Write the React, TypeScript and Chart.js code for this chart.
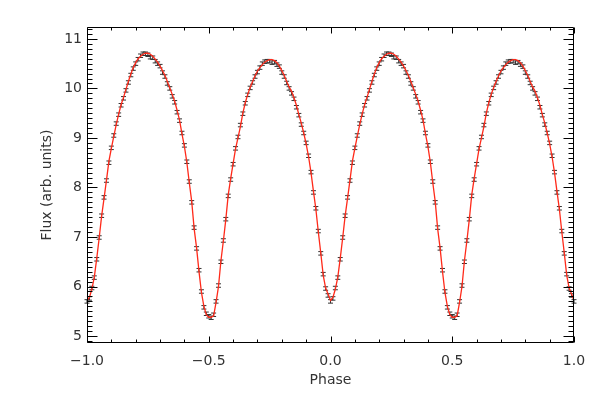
import React, { useEffect, useRef } from "react";
import { Chart, registerables } from "chart.js";

Chart.register(...registerables);

// Phase bins of one orbital cycle (the light curve is shown twice, -1..0 and 0..1)
const phaseBins = [
  0.00, 0.01, 0.02, 0.03, 0.04, 0.05, 0.06, 0.07, 0.08, 0.09,
  0.10, 0.11, 0.12, 0.13, 0.14, 0.15, 0.16, 0.17, 0.18, 0.19,
  0.20, 0.21, 0.22, 0.23, 0.24, 0.25, 0.26, 0.27, 0.28, 0.29,
  0.30, 0.31, 0.32, 0.33, 0.34, 0.35, 0.36, 0.37, 0.38, 0.39,
  0.40, 0.41, 0.42, 0.43, 0.44, 0.45, 0.46, 0.47, 0.48, 0.49,
  0.50, 0.51, 0.52, 0.53, 0.54, 0.55, 0.56, 0.57, 0.58, 0.59,
  0.60, 0.61, 0.62, 0.63, 0.64, 0.65, 0.66, 0.67, 0.68, 0.69,
  0.70, 0.71, 0.72, 0.73, 0.74, 0.75, 0.76, 0.77, 0.78, 0.79,
  0.80, 0.81, 0.82, 0.83, 0.84, 0.85, 0.86, 0.87, 0.88, 0.89,
  0.90, 0.91, 0.92, 0.93, 0.94, 0.95, 0.96, 0.97, 0.98, 0.99,
];

// Observed (binned) flux per phase bin
const observedFlux = [
  5.70, 5.76, 5.97, 6.18, 6.55, 6.99, 7.43, 7.80, 8.14, 8.50,
  8.80, 9.05, 9.29, 9.47, 9.66, 9.80, 9.96, 10.12, 10.27, 10.40,
  10.50, 10.59, 10.66, 10.70, 10.70, 10.68, 10.63, 10.62, 10.55, 10.50,
  10.45, 10.32, 10.24, 10.10, 10.00, 9.84, 9.72, 9.52, 9.35, 9.10,
  8.85, 8.52, 8.12, 7.70, 7.19, 6.77, 6.33, 5.90, 5.58, 5.45,
  5.40, 5.37, 5.43, 5.70, 6.02, 6.50, 6.93, 7.36, 7.83, 8.16,
  8.47, 8.79, 9.02, 9.26, 9.49, 9.70, 9.87, 10.01, 10.12, 10.24,
  10.33, 10.42, 10.50, 10.54, 10.55, 10.55, 10.52, 10.53, 10.48, 10.44,
  10.32, 10.24, 10.11, 10.00, 9.90, 9.79, 9.62, 9.46, 9.27, 9.10,
  8.90, 8.64, 8.31, 7.90, 7.58, 7.12, 6.67, 6.25, 5.96, 5.82,
];

// Model fit (red curve) per phase bin
const modelFlux = [
  5.72, 5.78, 5.95, 6.19, 6.57, 6.98, 7.42, 7.78, 8.15, 8.53,
  8.79, 9.03, 9.27, 9.48, 9.67, 9.82, 9.98, 10.14, 10.29, 10.42,
  10.52, 10.60, 10.65, 10.69, 10.71, 10.71, 10.69, 10.65, 10.59, 10.53,
  10.45, 10.36, 10.26, 10.14, 10.01, 9.88, 9.74, 9.56, 9.36, 9.08,
  8.83, 8.51, 8.10, 7.72, 7.17, 6.78, 6.30, 5.88, 5.60, 5.43,
  5.38, 5.38, 5.41, 5.68, 6.00, 6.52, 6.92, 7.35, 7.85, 8.18,
  8.48, 8.78, 9.00, 9.23, 9.50, 9.71, 9.88, 10.02, 10.14, 10.25,
  10.35, 10.42, 10.48, 10.53, 10.56, 10.58, 10.58, 10.56, 10.52, 10.45,
  10.36, 10.26, 10.14, 10.03, 9.94, 9.81, 9.66, 9.47, 9.30, 9.10,
  8.88, 8.62, 8.30, 7.92, 7.56, 7.10, 6.68, 6.23, 5.97, 5.85,
];

const fluxError = 0.035;
const cycleOffsets = [-1, 0, 1];

const xTickValues = [-1, -0.5, 0, 0.5, 1];
const yTickValues = [5, 6, 7, 8, 9, 10, 11];
const xRange = [-1, 1];
const yRange = [4.86, 11.24];

const xTitle = "Phase";
const yTitle = "Flux (arb. units)";

function buildPoints(values: number[]) {
  const pts: { x: number; y: number }[] = [];
  cycleOffsets.forEach((off) => {
    phaseBins.forEach((p, i) => {
      const x = p + off;
      if (x >= xRange[0] - 1e-9 && x <= xRange[1] + 1e-9) pts.push({ x, y: values[i] });
    });
  });
  return pts;
}

const fmtX = (v: number) => (v < 0 ? "\u2212" : "") + Math.abs(v).toFixed(1);

const errorBarPlugin = {
  id: "errorBars",
  beforeDatasetsDraw(chart: any) {
    const { ctx, scales } = chart;
    const x = scales.x;
    const y = scales.y;
    const data = chart.data.datasets[0].data as { x: number; y: number }[];
    ctx.save();
    ctx.strokeStyle = "#333";
    ctx.lineWidth = 1;
    ctx.beginPath();
    data.forEach((d) => {
      const px = x.getPixelForValue(d.x);
      const yt = y.getPixelForValue(d.y + fluxError);
      const yb = y.getPixelForValue(d.y - fluxError);
      ctx.moveTo(px, yt);
      ctx.lineTo(px, yb);
      ctx.moveTo(px - 2.5, yt);
      ctx.lineTo(px + 2.5, yt);
      ctx.moveTo(px - 2.5, yb);
      ctx.lineTo(px + 2.5, yb);
    });
    ctx.stroke();
    ctx.restore();
  },
};

const idlAxesPlugin = {
  id: "idlAxes",
  afterDraw(chart: any) {
    const { ctx, chartArea: a, scales } = chart;
    const x = scales.x;
    const y = scales.y;
    const L = a.left + 0.5;
    const R = a.right - 0.5;
    const T = a.top + 0.5;
    const B = a.bottom - 0.5;
    ctx.save();
    ctx.strokeStyle = "#000";
    ctx.lineWidth = 1;
    ctx.beginPath();
    ctx.rect(L, T, R - L, B - T);
    // x ticks (top and bottom)
    for (let i = -10; i <= 10; i++) {
      const v = i / 10;
      const major = i % 5 === 0;
      const len = major ? 6 : 3;
      const px = Math.round(x.getPixelForValue(v)) + 0.5;
      ctx.moveTo(px, B);
      ctx.lineTo(px, B - len);
      ctx.moveTo(px, T);
      ctx.lineTo(px, T + len);
    }
    // y ticks (left and right)
    for (let i = 49; i <= 112; i++) {
      const v = i / 10;
      const major = i % 10 === 0;
      const len = major ? 10 : 5;
      const py = Math.round(y.getPixelForValue(v)) + 0.5;
      ctx.moveTo(L, py);
      ctx.lineTo(L + len, py);
      ctx.moveTo(R, py);
      ctx.lineTo(R - len, py);
    }
    ctx.stroke();
    ctx.restore();
  },
};

export default function App() {
  const ref = useRef<HTMLCanvasElement>(null);
  useEffect(() => {
    document.body.style.margin = "0";
    const font = { family: "'DejaVu Sans', sans-serif", size: 14 };
    const chart = new Chart(ref.current as HTMLCanvasElement, {
      type: "line",
      data: {
        datasets: [
          {
            label: "observed",
            data: buildPoints(observedFlux),
            showLine: false,
            pointRadius: 0,
            borderColor: "#333",
          },
          {
            label: "model",
            data: buildPoints(modelFlux),
            borderColor: "#ff2a1a",
            borderWidth: 1.3,
            pointRadius: 0,
            tension: 0,
          },
        ],
      },
      options: {
        animation: false,
        responsive: false,
        devicePixelRatio: 1,
        layout: { padding: { top: 27, right: 26, left: 0, bottom: 0 } },
        plugins: {
          legend: { display: false },
          tooltip: { enabled: false },
        },
        scales: {
          x: {
            type: "linear",
            min: xRange[0],
            max: xRange[1],
            grid: { display: false, drawTicks: false },
            border: { display: false },
            afterBuildTicks: (s: any) => {
              s.ticks = xTickValues.map((v) => ({ value: v }));
            },
            afterFit: (s: any) => {
              s.height = 57;
              s.paddingLeft = 0;
              s.paddingRight = 0;
            },
            ticks: {
              color: "#333",
              font,
              padding: 10,
              maxRotation: 0,
              autoSkip: false,
              callback: (v: any) => fmtX(Number(v)),
            },
            title: {
              display: true,
              text: xTitle,
              color: "#333",
              font,
              padding: { top: 0, bottom: 11 },
            },
          },
          y: {
            type: "linear",
            min: yRange[0],
            max: yRange[1],
            grid: { display: false, drawTicks: false },
            border: { display: false },
            afterBuildTicks: (s: any) => {
              s.ticks = yTickValues.map((v) => ({ value: v }));
            },
            afterFit: (s: any) => {
              s.width = 87;
              s.paddingTop = 0;
              s.paddingBottom = 0;
            },
            ticks: {
              color: "#333",
              font,
              padding: 5,
              autoSkip: false,
              callback: (v: any) => String(v),
            },
            title: {
              display: true,
              text: yTitle,
              color: "#333",
              font,
              padding: { top: 39, bottom: 0 },
            },
          },
        },
      },
      plugins: [errorBarPlugin, idlAxesPlugin],
    });
    return () => chart.destroy();
  }, []);
  return (
    <div style={{ width: 600, height: 400, position: "relative" }}>
      <canvas ref={ref} width={600} height={400} style={{ display: "block", width: 600, height: 400 }} />
    </div>
  );
}
